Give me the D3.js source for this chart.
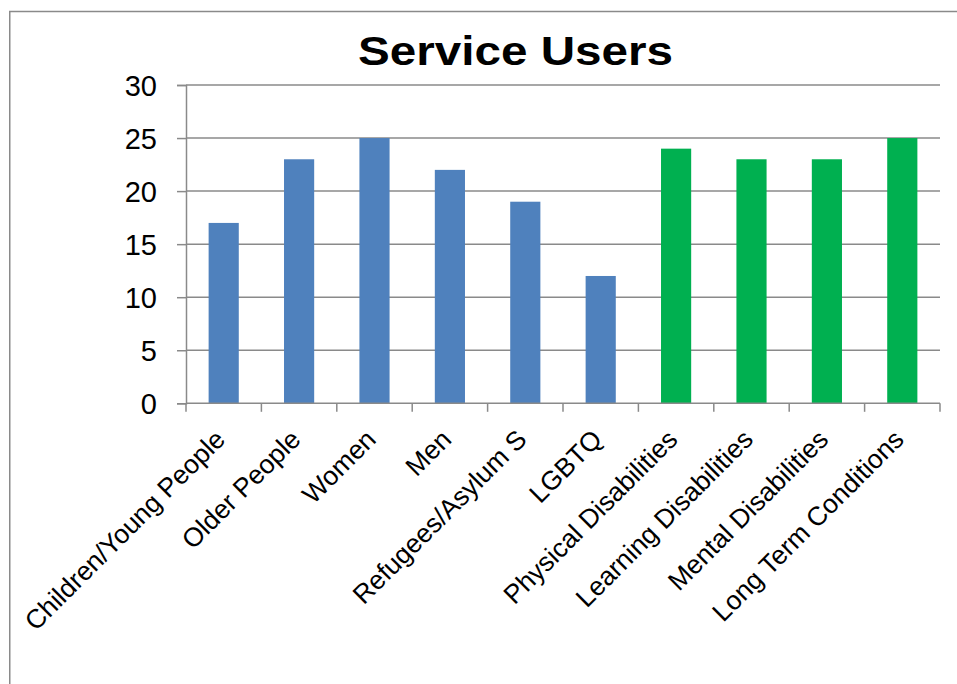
<!DOCTYPE html>
<html>
<head>
<meta charset="utf-8">
<script src="https://cdn.jsdelivr.net/npm/d3@7"></script>
<style>
  html, body { margin: 0; padding: 0; background: #fff; }
  svg { display: block; font-family: "Liberation Sans", Arial, sans-serif; }
</style>
</head>
<body>
<svg id="chart" width="957" height="684"></svg>
<script>
// Service user groups and counts
const categories = [
  "Children/Young People", "Older People", "Women", "Men", "Refugees/Asylum S",
  "LGBTQ", "Physical Disabilities", "Learning Disabilities", "Mental Disabilities",
  "Long Term Conditions"
];
const values = [17, 23, 25, 22, 19, 12, 24, 23, 23, 25];
// Which colour group each category belongs to
const groups = ["people", "people", "people", "people", "people", "people",
                "condition", "condition", "condition", "condition"];
const yTicks = [0, 5, 10, 15, 20, 25, 30];
const titleText = "Service Users";

const groupColor = d3.scaleOrdinal()
  .domain(["people", "condition"])
  .range(["#4F81BD", "#00B050"]);

const svg = d3.select("#chart");
const plot = { left: 186, right: 940, top: 85, bottom: 403.3 };
const gridColor = "#8a8a8a";

// Outer chart frame (runs off the right and bottom edges)
svg.append("rect")
  .attr("x", 9.75).attr("y", 11.5)
  .attr("width", 1000).attr("height", 1000)
  .attr("fill", "none")
  .attr("stroke", gridColor)
  .attr("stroke-width", 1.5);

// Title
svg.append("text")
  .attr("x", 515.5).attr("y", 65)
  .attr("text-anchor", "middle")
  .attr("font-weight", "bold")
  .attr("font-size", 41)
  .attr("textLength", 315)
  .attr("lengthAdjust", "spacingAndGlyphs")
  .attr("fill", "#000")
  .text(titleText);

const x = d3.scaleBand()
  .domain(categories)
  .range([plot.left, plot.right])
  .paddingInner(0.6)
  .paddingOuter(0.3);

const y = d3.scaleLinear()
  .domain([0, 30])
  .range([plot.bottom, plot.top]);

// Horizontal gridlines
svg.append("g")
  .selectAll("line")
  .data(yTicks.filter(t => t > 0))
  .join("line")
  .attr("x1", plot.left).attr("x2", plot.right)
  .attr("y1", d => y(d)).attr("y2", d => y(d))
  .attr("stroke", gridColor)
  .attr("stroke-width", 1.5);

// Bars
svg.append("g")
  .selectAll("rect")
  .data(categories)
  .join("rect")
  .attr("x", d => x(d))
  .attr("width", x.bandwidth())
  .attr("y", (d, i) => y(values[i]))
  .attr("height", (d, i) => y(0) - y(values[i]))
  .attr("fill", (d, i) => groupColor(groups[i]));

// Y axis
const yAxis = svg.append("g")
  .attr("transform", `translate(${plot.left},0)`)
  .call(d3.axisLeft(y).tickValues(yTicks).tickSize(9).tickPadding(20));
yAxis.select(".domain").attr("stroke", gridColor).attr("stroke-width", 1.5);
yAxis.selectAll(".tick line").attr("stroke", gridColor).attr("stroke-width", 1.5);
yAxis.selectAll(".tick text")
  .attr("font-size", 29)
  .attr("font-family", "'Liberation Sans', Arial, sans-serif")
  .attr("fill", "#000")
  .attr("dy", "0.36em");

// X axis: ticks at category boundaries
const step = x.step();
const boundaries = d3.range(categories.length + 1).map(i => plot.left + i * step);
const xAxisG = svg.append("g");
xAxisG.append("line")
  .attr("x1", plot.left).attr("x2", plot.right)
  .attr("y1", plot.bottom).attr("y2", plot.bottom)
  .attr("stroke", gridColor).attr("stroke-width", 1.5);
xAxisG.selectAll("line.tick")
  .data(boundaries)
  .join("line")
  .attr("class", "tick")
  .attr("x1", d => d).attr("x2", d => d)
  .attr("y1", plot.bottom).attr("y2", plot.bottom + 8.5)
  .attr("stroke", gridColor).attr("stroke-width", 1.5);

// Rotated category labels
xAxisG.selectAll("text")
  .data(categories)
  .join("text")
  .attr("transform", d => `translate(${x(d) + x.bandwidth() / 2 + 3},441) rotate(-45)`)
  .attr("text-anchor", "end")
  .attr("font-size", 26.5)
  .attr("fill", "#000")
  .text(d => d);
</script>
</body>
</html>
